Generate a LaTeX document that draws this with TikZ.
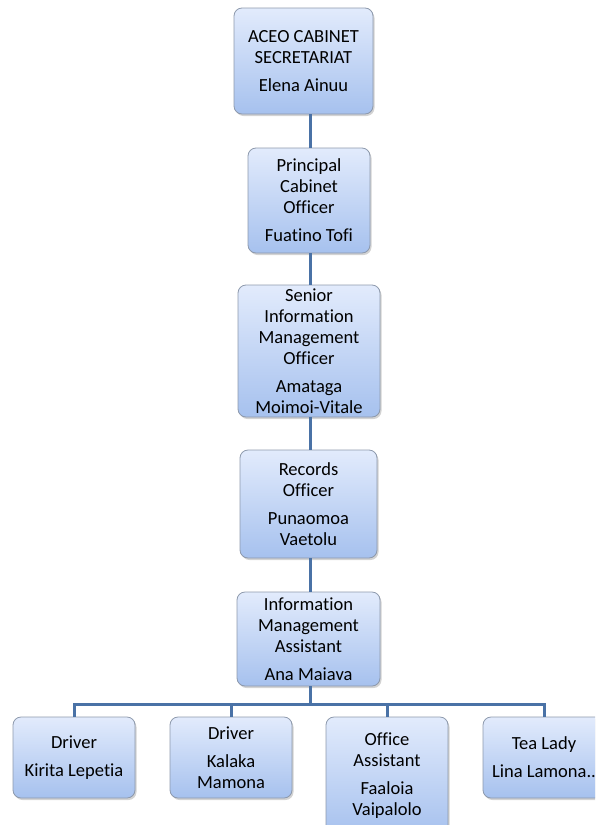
\documentclass[tikz,border=0pt]{standalone}
\usepackage{fontspec}
\setmainfont{Carlito}[Ligatures={NoCommon}]
\usetikzlibrary{shadows}
\definecolor{boxtop}{HTML}{E2EBFC}
\definecolor{boxbot}{HTML}{A6C1EE}
\definecolor{boxline}{HTML}{8D99AC}
\definecolor{linkblue}{HTML}{4A72A6}
\tikzset{
  orgbox/.style={draw=boxline, line width=0.8pt, rounded corners=8pt,
    top color=boxtop, bottom color=boxbot, inner sep=0pt,
    drop shadow={opacity=0.35, shadow xshift=1.5pt, shadow yshift=-2pt}},
  boxtext/.style={align=center, inner sep=0pt, font=\fontsize{18.5}{21}\selectfont},
  link/.style={draw=linkblue, line width=3pt}
}
% a box of fixed size with its text centred on it
\newcommand\orgpost[6]{%
  \node[orgbox, minimum width=#3, minimum height=#4] (#1) at #2 {};
  \node[boxtext] (#1-text) at (#1.center) {#5\\[7pt]#6};
}
\begin{document}
\begin{tikzpicture}[x=1pt,y=-1pt]
\useasboundingbox (0,0) rectangle (595,825);
\clip (0,0) rectangle (595,825);
% chain of posts
\orgpost{aceo}{(303.5,61)}{139pt}{106pt}{ACEO CABINET\\SECRETARIAT}{Elena Ainuu}
\orgpost{pco}{(309,200.5)}{122pt}{105pt}{Principal\\Cabinet\\Officer}{Fuatino Tofi}
\orgpost{simo}{(309,351)}{142pt}{132pt}{Senior\\Information\\Management\\Officer}{Amataga\\Moimoi-Vitale}
\orgpost{rec}{(308.5,504)}{137pt}{108pt}{Records\\Officer}{Punaomoa\\Vaetolu}
\orgpost{ima}{(308.5,639)}{143pt}{94pt}{Information\\Management\\Assistant}{Ana Maiava}
% bottom row
\orgpost{drv1}{(74,757.5)}{122pt}{81pt}{Driver}{Kirita Lepetia}
\orgpost{drv2}{(231,757.5)}{122pt}{81pt}{Driver}{Kalaka\\Mamona}
\orgpost{offa}{(387,776)}{122pt}{118pt}{Office\\Assistant}{Faaloia\\Vaipalolo}
\orgpost{tea}{(544,757.5)}{122pt}{81pt}{Tea Lady}{Lina Lamona..}
% connectors
\coordinate (trunk) at (310,0);
\coordinate (bus) at (0,704);
\draw[link] (trunk |- aceo.south) -- (trunk |- pco.north);
\draw[link] (trunk |- pco.south) -- (trunk |- simo.north);
\draw[link] (trunk |- simo.south) -- (trunk |- rec.north);
\draw[link] (trunk |- rec.south) -- (trunk |- ima.north);
\draw[link] (trunk |- ima.south) -- (trunk |- bus);
\foreach \c in {drv1,drv2,offa,tea}
  \draw[link] (trunk |- bus) -| (\c.north);
\end{tikzpicture}
\end{document}
